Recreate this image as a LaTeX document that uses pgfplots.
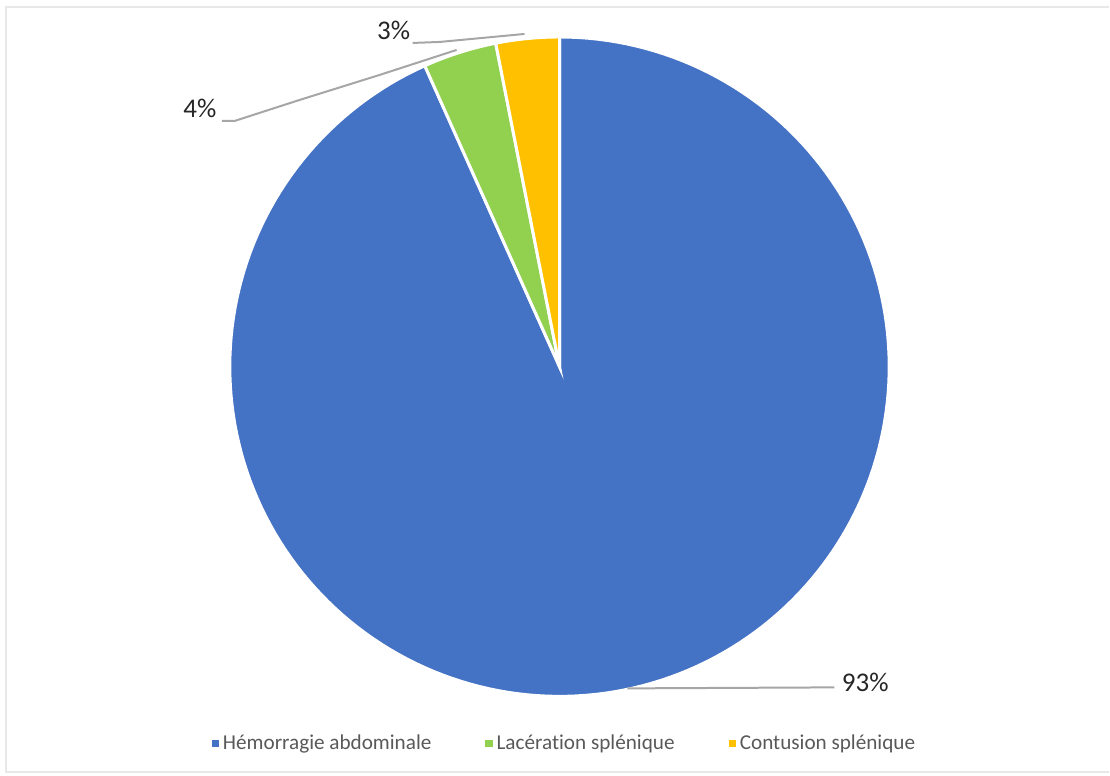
\documentclass[border=0pt]{standalone}
\usepackage{fontspec}
\setmainfont{Carlito}[Ligatures={NoCommon}]
\usepackage{pgfplots}
\usepackage{pgfplotstable}
\pgfplotsset{compat=1.18}
\definecolor{cblue}{HTML}{4472C4}
\definecolor{cgreen}{HTML}{92D050}
\definecolor{cyellow}{HTML}{FFC000}
\definecolor{lead}{HTML}{A6A6A6}
\definecolor{txt}{HTML}{595959}
\pgfplotstableread{
label value
Hemorragie 93.3
Laceration 3.6
Contusion 3.1
}\datatable
\pgfplotstablegetelem{0}{value}\of\datatable \let\va\pgfplotsretval
\pgfplotstablegetelem{1}{value}\of\datatable \let\vb\pgfplotsretval
\pgfplotstablegetelem{2}{value}\of\datatable \let\vc\pgfplotsretval
\pgfmathsetmacro\aA{90}
\pgfmathsetmacro\aB{90-3.6*\va}
\pgfmathsetmacro\aC{\aB-3.6*\vb}
\pgfmathsetmacro\aD{\aC-3.6*\vc}
\def\cx{560}
\def\cy{409}
\def\rr{330}
\begin{document}
\begin{tikzpicture}
\begin{axis}[
  scale only axis, width=555pt, height=388pt,
  xmin=0, xmax=1110, ymin=0, ymax=776,
  hide axis, clip=false,
  legend columns=3,
  legend style={at={(axis cs:566,32)}, anchor=center, draw=none, fill=none,
    font=\fontsize{10.6}{12}\selectfont\color{txt},
    /tikz/every even column/.append style={column sep=25pt},
    inner sep=0pt},
  legend image code/.code={\path[#1,draw=none] (0pt,-1.8pt) rectangle (3.6pt,1.8pt);},
]
\path (axis cs:0,0) rectangle (axis cs:1110,776);
\draw[gray!18, line width=1pt] (axis cs:1110,769) -- (axis cs:6,769) -- (axis cs:6,3) -- (axis cs:1110,3);
\addplot[fill=cblue, draw=white, line width=1.5pt, domain=\aB:\aA, samples=200, variable=\t]
  ({\cx+\rr*cos(t)},{\cy+\rr*sin(t)}) -- (axis cs:\cx,\cy) -- cycle;
\addlegendentry{Hémorragie abdominale}
\addplot[fill=cgreen, draw=white, line width=1.5pt, domain=\aC:\aB, samples=20, variable=\t]
  ({\cx+\rr*cos(t)},{\cy+\rr*sin(t)}) -- (axis cs:\cx,\cy) -- cycle;
\addlegendentry{Lacération splénique}
\addplot[fill=cyellow, draw=white, line width=1.5pt, domain=\aD:\aC, samples=20, variable=\t]
  ({\cx+\rr*cos(t)},{\cy+\rr*sin(t)}) -- (axis cs:\cx,\cy) -- cycle;
\addlegendentry{Contusion splénique}
\addplot[lead, line width=1pt, no marks, forget plot] coordinates {(628,87) (835,88)};
\addplot[lead, line width=1pt, no marks, forget plot] coordinates {(222,655) (235,655) (300,676) (380,701) (457,726)};
\addplot[lead, line width=1pt, no marks, forget plot] coordinates {(413,733) (440,734) (525,742)};
\node[font=\fontsize{13.5}{15}\selectfont, text=black!85] at (axis cs:866,93) {93\%};
\node[font=\fontsize{13.5}{15}\selectfont, text=black!85] at (axis cs:200,667) {4\%};
\node[font=\fontsize{13.5}{15}\selectfont, text=black!85] at (axis cs:394,746) {3\%};
\end{axis}
\end{tikzpicture}
\end{document}
